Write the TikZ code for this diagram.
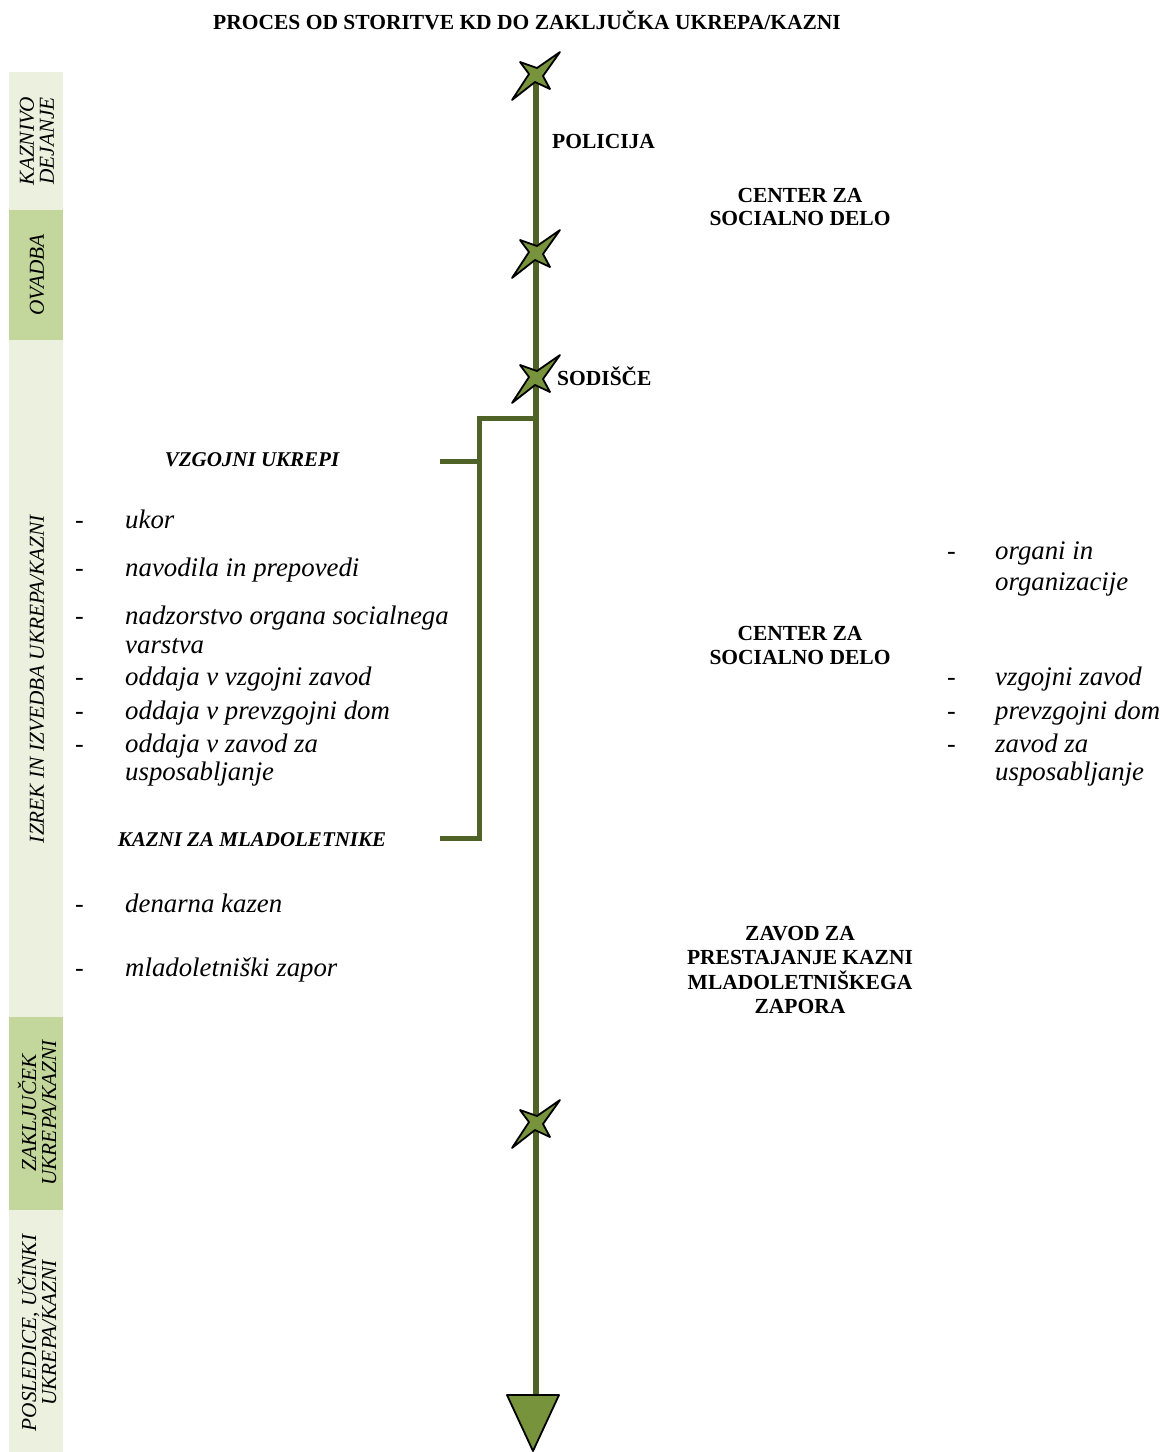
\documentclass[tikz,border=0pt]{standalone}
\usepackage{fontspec}
\setmainfont{Liberation Serif}
\definecolor{lineol}{HTML}{4F6228}
\definecolor{starol}{HTML}{77933C}
\definecolor{barlight}{HTML}{EBF1DE}
\definecolor{bardark}{HTML}{C3D69B}
\tikzset{
 itemtxt/.style={anchor=base west, inner sep=0pt, font=\fontsize{26.8}{29}\selectfont\itshape},
 dashtxt/.style={anchor=base west, inner sep=0pt, font=\fontsize{26}{29}\selectfont},
 boldtxt/.style={anchor=base, inner sep=0pt, font=\fontsize{21.5}{24}\selectfont\bfseries},
 boldw/.style={anchor=base west, inner sep=0pt, font=\fontsize{21.5}{24}\selectfont\bfseries},
 headtxt/.style={anchor=base, inner sep=0pt, font=\fontsize{21}{24}\selectfont\bfseries\itshape},
 verttxt/.style={rotate=90, align=center, inner sep=0pt, font=\fontsize{21.3}{20}\selectfont\itshape},
 mainline/.style={draw=lineol, line width=6pt},
 brline/.style={draw=lineol, line width=5pt},
 kstar/.pic={\filldraw[fill=starol, draw=black, line width=1.8pt, line join=round]
   (24,-23) -- (7,1) -- (14,14) -- (-1,7) -- (-24,25) -- (-7,-1) -- (-16,-13) -- (1,-7) -- cycle;}
}
\begin{document}
\begin{tikzpicture}[x=1pt,y=-1pt]
\useasboundingbox (0,0) rectangle (1164,1452);
% side bars
\fill[barlight] (9,72) rectangle (63,210);
\fill[bardark] (9,210) rectangle (63,340);
\fill[barlight] (9,340) rectangle (63,1017);
\fill[bardark] (9,1017) rectangle (63,1210);
\fill[barlight] (9,1210) rectangle (63,1452);
\node[verttxt] (lkd) at (37,141) {KAZNIVO\\DEJANJE};
\node[verttxt] (lov) at (37,275) {OVADBA};
\node[verttxt] (liz) at (37,679) {IZREK IN IZVEDBA UKREPA/KAZNI};
\node[verttxt] (lza) at (37,1113) {ZAKLJUČEK\\UKREPA/KAZNI};
\node[verttxt] (lpo) at (37,1333) {POSLEDICE, UČINKI\\UKREPA/KAZNI};
% title
\node[boldtxt] (title) at (527,29) {PROCES OD STORITVE KD DO ZAKLJUČKA UKREPA/KAZNI};
% main line
\coordinate (s1) at (536,75);
\coordinate (s2) at (536,253);
\coordinate (s3) at (536,378);
\coordinate (s4) at (536,1123);
\coordinate (br) at (536,418);
\coordinate (atop) at (536,1400);
\draw[mainline] (s1) -- (atop);
\coordinate (b1) at (479,418);
\coordinate (b2) at (479,838);
\coordinate (b3) at (440,838);
\coordinate (b4) at (479,461);
\coordinate (b5) at (440,461);
\draw[brline, line join=miter] (br) -- (b1) -- (b2) -- (b3);
\draw[brline] (b4) -- (b5);
\filldraw[fill=starol, draw=black, line width=1.8pt, line join=round] (507,1395) -- (559,1395) -- (533,1451) -- cycle;
\pic at (s1) {kstar};
\pic at (s2) {kstar};
\pic at (s3) {kstar};
\pic at (s4) {kstar};
% labels on line
\node[boldw] (pol) at (552,148) {POLICIJA};
\node[boldw] (sod) at (557,385) {SODIŠČE};
\node[boldtxt] (csd1a) at (800,202) {CENTER ZA};
\node[boldtxt] (csd1b) at (800,225) {SOCIALNO DELO};
\node[boldtxt] (csd2a) at (800,640) {CENTER ZA};
\node[boldtxt] (csd2b) at (800,664) {SOCIALNO DELO};
\node[boldtxt] (zpa) at (800,940) {ZAVOD ZA};
\node[boldtxt] (zpb) at (800,964) {PRESTAJANJE KAZNI};
\node[boldtxt] (zpc) at (800,989) {MLADOLETNIŠKEGA};
\node[boldtxt] (zpd) at (800,1013) {ZAPORA};
% left headings
\node[headtxt] (vu) at (252,466) {VZGOJNI UKREPI};
\node[headtxt] (km) at (252,846) {KAZNI ZA MLADOLETNIKE};
% left items
\foreach \yy in {528,576,624,685,719,752,912,976} {\node[dashtxt] at (75,\yy) {-};}
\node[itemtxt] (i1) at (125,528) {ukor};
\node[itemtxt] (i2) at (125,576) {navodila in prepovedi};
\node[itemtxt] (i3a) at (125,624) {nadzorstvo organa socialnega};
\node[itemtxt] (i3b) at (125,653) {varstva};
\node[itemtxt] (i4) at (125,685) {oddaja v vzgojni zavod};
\node[itemtxt] (i5) at (125,719) {oddaja v prevzgojni dom};
\node[itemtxt] (i6a) at (125,752) {oddaja v zavod za};
\node[itemtxt] (i6b) at (125,780) {usposabljanje};
\node[itemtxt] (k1) at (125,912) {denarna kazen};
\node[itemtxt] (k2) at (125,976) {mladoletniški zapor};
% right items
\foreach \yy in {559,685,719,752} {\node[dashtxt] at (947,\yy) {-};}
\node[itemtxt] (r1a) at (995,559) {organi in};
\node[itemtxt] (r1b) at (995,590) {organizacije};
\node[itemtxt] (r2) at (995,685) {vzgojni zavod};
\node[itemtxt] (r3) at (995,719) {prevzgojni dom};
\node[itemtxt] (r4a) at (995,752) {zavod za};
\node[itemtxt] (r4b) at (995,780) {usposabljanje};
\end{tikzpicture}
\end{document}
